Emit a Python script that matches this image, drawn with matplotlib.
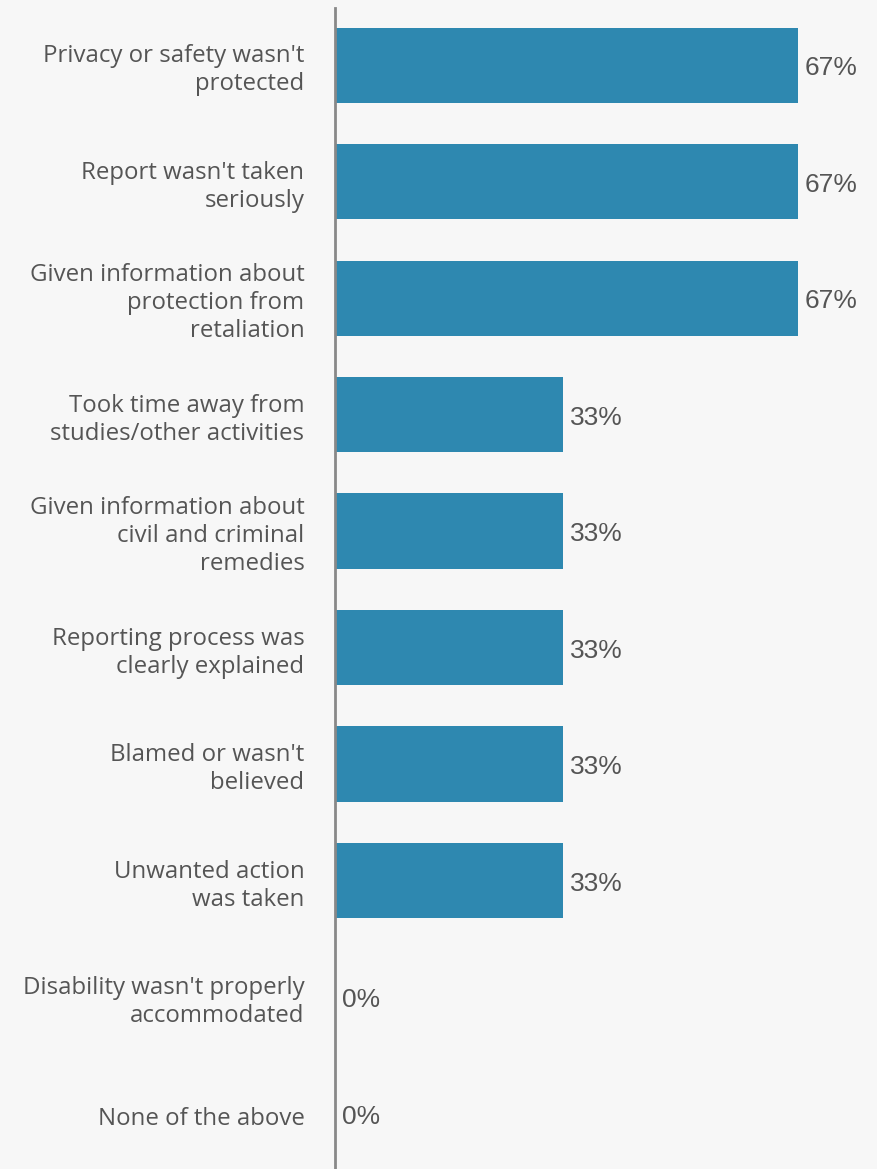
import matplotlib.pyplot as plt
from matplotlib.transforms import ScaledTranslation

categories = [
    "Privacy or safety wasn't\nprotected",
    "Report wasn't taken\nseriously",
    "Given information about\nprotection from\nretaliation",
    "Took time away from\nstudies/other activities",
    "Given information about\ncivil and criminal\nremedies",
    "Reporting process was\nclearly explained",
    "Blamed or wasn't\nbelieved",
    "Unwanted action\nwas taken",
    "Disability wasn't properly\naccommodated",
    "None of the above",
]
values = [67, 67, 67, 33, 33, 33, 33, 33, 0, 0]

bg = '#f7f7f7'
bar_color = '#2e88b0'
text_color = '#555555'

fig = plt.figure(figsize=(8.78, 11.69), dpi=100, facecolor=bg)
ax = fig.add_axes([335/878, 0, 543/878, 1 - 8/1169])
ax.set_facecolor(bg)

pos = list(range(len(categories)))
ax.barh(pos, values, height=0.645, color=bar_color)
ax.set_xlim(0, 78.6)
ax.set_ylim(9.476, -0.49)

for s in ['top', 'right', 'bottom']:
    ax.spines[s].set_visible(False)
ax.spines['left'].set_color('#888888')
ax.spines['left'].set_linewidth(2)
ax.set_xticks([])
ax.set_yticks(pos)
ax.set_yticklabels(categories, fontsize=17.3, color=text_color,
                   family=['Open Sans', 'DejaVu Sans'], linespacing=1.22,
                   ha='right', va='center')
ax.tick_params(axis='y', length=0, pad=22)

# nudge the category labels down a little
shift = ScaledTranslation(0, -5 / 100, fig.dpi_scale_trans)
for lbl in ax.get_yticklabels():
    lbl.set_transform(lbl.get_transform() + shift)

for y, v in zip(pos, values):
    ax.annotate(f'{v}%', (v, y), xytext=(7, -3), textcoords='offset pixels',
                ha='left', va='center', fontsize=19, color=text_color,
                family=['Liberation Sans', 'DejaVu Sans'])

fig.savefig('out.png', dpi=100, facecolor=bg)
